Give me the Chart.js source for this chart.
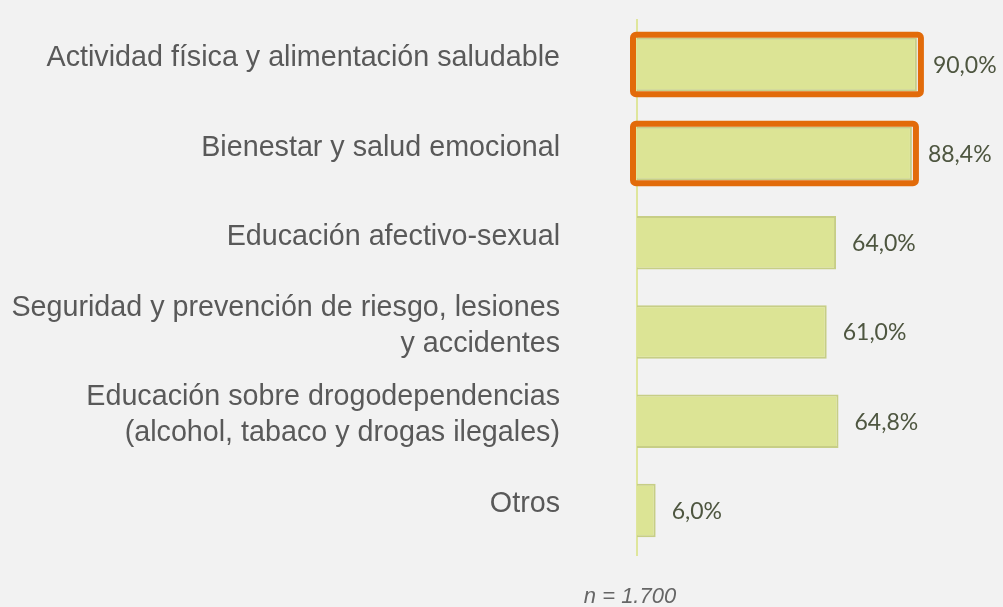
<!DOCTYPE html>
<html>
<head>
<meta charset="utf-8">
<script src="https://cdn.jsdelivr.net/npm/chart.js@4"></script>
<style>
  html, body { margin: 0; padding: 0; background: #f2f2f2; }
  #wrap { width: 1003px; height: 607px; position: relative; }
</style>
</head>
<body>
<div id="wrap"><canvas id="chart" width="1003" height="607"></canvas></div>
<script>
const categories = [
  "Actividad física y alimentación saludable",
  "Bienestar y salud emocional",
  "Educación afectivo-sexual",
  ["Seguridad y prevención de riesgo, lesiones", "y accidentes"],
  ["Educación sobre drogodependencias", "(alcohol, tabaco y drogas ilegales)"],
  "Otros"
];
const values = [90.0, 88.4, 64.0, 61.0, 64.8, 6.0];
const highlighted = [0, 1];
const sampleNote = "n = 1.700";

const fmt = (v) => v.toFixed(1).replace(".", ",") + "%";

const valueLabels = {
  id: "valueLabels",
  afterDatasetsDraw(chart) {
    const ctx = chart.ctx;
    const meta = chart.getDatasetMeta(0);
    ctx.save();
    ctx.font = "23px Lato";
    ctx.fillStyle = "#4e5640";
    ctx.textBaseline = "middle";
    ctx.textAlign = "left";
    meta.data.forEach((bar, i) => {
      ctx.fillText(fmt(values[i]), bar.x + 16, bar.y + 1);
    });
    ctx.restore();
  }
};

// orange frames around the top two bars
const highlightBoxes = {
  id: "highlightBoxes",
  afterDatasetsDraw(chart) {
    const ctx = chart.ctx;
    const meta = chart.getDatasetMeta(0);
    ctx.save();
    ctx.strokeStyle = "#e26b0a";
    ctx.lineWidth = 6;
    ctx.lineJoin = "round";
    highlighted.forEach((i) => {
      const bar = meta.data[i];
      const half = bar.height / 2;
      const x0 = bar.base - 4, x1 = bar.x + 4;
      ctx.beginPath();
      ctx.roundRect(x0, bar.y - half - 3, x1 - x0, bar.height + 6, 3);
      ctx.stroke();
    });
    ctx.restore();
  }
};

const footNote = {
  id: "footNote",
  afterDraw(chart) {
    const ctx = chart.ctx;
    ctx.save();
    ctx.font = "italic 22px 'Liberation Sans'";
    ctx.fillStyle = "#666666";
    ctx.textAlign = "center";
    ctx.textBaseline = "alphabetic";
    ctx.fillText(sampleNote, 630, 603);
    ctx.restore();
  }
};

new Chart(document.getElementById("chart"), {
  type: "bar",
  data: {
    labels: categories,
    datasets: [{
      data: values,
      backgroundColor: "#dce495",
      borderColor: "#c7ce86",
      borderWidth: 2,
      borderSkipped: "left",
      barPercentage: 0.6,
      categoryPercentage: 1.0
    }]
  },
  options: {
    indexAxis: "y",
    responsive: false,
    animation: false,
    layout: { padding: { top: 15, right: 55, bottom: 52, left: 0 } },
    plugins: {
      legend: { display: false },
      tooltip: { enabled: false }
    },
    scales: {
      x: {
        display: false,
        min: 0,
        max: 100
      },
      y: {
        afterFit(scale) { scale.width = 637; },
        grid: { display: true, color: "transparent", drawTicks: true, tickLength: 75 },
        border: { display: true, color: "#dfe69c", width: 2 },
        ticks: {
          padding: 2,
          labelOffset: -6,
          color: "#595959",
          font: { family: "'Liberation Sans'", size: 28.7, lineHeight: 1.24 }
        }
      }
    }
  },
  plugins: [valueLabels, highlightBoxes, footNote]
});
</script>
</body>
</html>
